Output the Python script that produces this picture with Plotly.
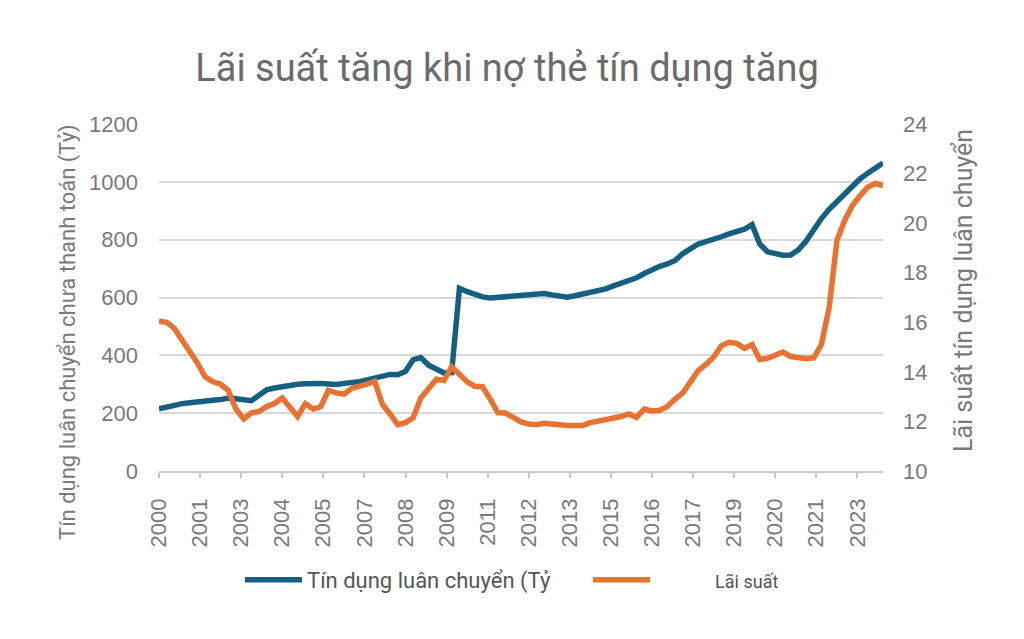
import plotly.graph_objects as go
import pandas as pd

# ---- data (quarterly, 2000 Q1 .. 2023 Q3) ----
start_period = "2000-01-01"
credit_outstanding = [
    215, 222, 228, 233,
    236, 240, 242, 245,
    247, 252, 250, 247,
    243, 262, 281, 287,
    292, 296, 300, 302,
    304, 303, 301, 299,
    303, 305, 309, 315,
    322, 332, 334, 333,
    345, 385, 392, 366,
    352, 339, 340, 632,
    620, 610, 602, 598,
    600, 603, 603, 605,
    607, 610, 614, 609,
    605, 601, 606, 612,
    617, 621, 630, 640,
    648, 658, 668, 683,
    696, 708, 716, 728,
    752, 768, 785, 793,
    800, 810, 820, 828,
    836, 852, 785, 758,
    750, 746, 747, 765,
    795, 835, 873, 905,
    932, 958, 985, 1010,
    1030, 1048, 1065,
]
interest_rate = [
    16.04, 16.0, 15.75, 15.3,
    14.85, 14.35, 13.8, 13.6,
    13.5, 13.25, 12.5, 12.1,
    12.35, 12.4, 12.6, 12.72,
    12.95, 12.6, 12.2, 12.72,
    12.5, 12.6, 13.25, 13.15,
    13.1, 13.33, 13.4, 13.5,
    13.62, 12.7, 12.3, 11.87,
    11.95, 12.15, 12.95, 13.3,
    13.7, 13.65, 14.2, 13.9,
    13.6, 13.42, 13.4, 12.9,
    12.35, 12.34, 12.15, 11.98,
    11.9, 11.87, 11.93, 11.9,
    11.84, 11.84, 11.84, 11.84,
    11.95, 12.0, 12.05, 12.11,
    12.2, 12.3, 12.16, 12.5,
    12.42, 12.45, 12.6, 12.9,
    13.15, 13.6, 14.05, 14.3,
    14.6, 15.05, 15.19, 15.15,
    14.95, 15.1, 14.5, 14.55,
    14.65, 14.8, 14.62, 14.55,
    14.53, 14.56, 15.1, 16.6,
    19.3, 20.1, 20.7, 21.1,
    21.45, 21.6, 21.52,
]
tick_dates = ["2000-01-01", "2001-05-01", "2002-09-01", "2004-01-01", "2005-05-01",
              "2006-09-01", "2008-01-01", "2009-05-01", "2010-09-01", "2012-01-01",
              "2013-05-01", "2014-09-01", "2016-01-01", "2017-05-01", "2018-09-01",
              "2020-01-01", "2021-05-01", "2022-09-01"]
tick_labels = ["2000", "2001", "2003", "2004", "2005", "2007", "2008", "2009", "2011",
               "2012", "2013", "2015", "2016", "2017", "2019", "2020", "2021", "2023"]
series_names = ["Tín dụng luân chuyển (Tỷ" + "\u00a0" * 6,
                "\u00a0" * 11 + "<span style='font-size:18px'>Lãi suất</span>"]
title_text = "Lãi suất tăng khi nợ thẻ tín dụng tăng"
left_title = "Tín dụng luân chuyển chưa thanh toán (Tỷ)"
right_title = "Lãi suất tín dụng luân chuyển"

dates = pd.date_range(start_period, periods=len(credit_outstanding), freq="QS")

BLUE = "#156082"
ORANGE = "#E97132"
GRAY = "#7a7a7a"

fig = go.Figure()
fig.add_trace(go.Scatter(x=dates, y=credit_outstanding, name=series_names[0],
                         mode="lines", line=dict(color=BLUE, width=5.5), yaxis="y"))
fig.add_trace(go.Scatter(x=dates, y=interest_rate, name=series_names[1],
                         mode="lines", line=dict(color=ORANGE, width=5.5), yaxis="y2"))

fig.update_layout(
    width=1024, height=639,
    paper_bgcolor="white", plot_bgcolor="white",
    margin=dict(l=151, r=149, t=116, b=176),
    title=dict(text=title_text, x=499 / 1024, xref="container", xanchor="center",
               y=1 - 60 / 639, yref="container", yanchor="middle",
               font=dict(family="Roboto", size=38, color="#6b6b6b")),
    xaxis=dict(type="date", range=[dates[0], dates[-1]],
               tickvals=tick_dates, ticktext=tick_labels, tickangle=-90,
               showgrid=False, showline=True, linecolor="#c8c8c8", linewidth=1.5,
               ticks="outside", ticklen=5, tickcolor="#c8c8c8", tickwidth=1.5,
               tickfont=dict(family="Liberation Sans", size=22, color=GRAY),
               ticklabelstandoff=12, zeroline=False),
    yaxis=dict(range=[0, 1200], dtick=200, showgrid=True, gridcolor="#d9d9d9",
               gridwidth=1.5, zeroline=False, showline=False,
               tickfont=dict(family="Liberation Sans", size=22, color=GRAY),
               ticklabelstandoff=20),
    yaxis2=dict(range=[10, 24], dtick=2, overlaying="y", side="right",
                showgrid=False, zeroline=False, showline=False,
                tickfont=dict(family="Liberation Sans", size=22, color=GRAY),
                ticklabelstandoff=19),
    legend=dict(orientation="h", xref="container", x=504 / 1024, xanchor="center",
                yref="container", y=1 - 572 / 639, yanchor="middle",
                itemwidth=57, font=dict(family="Roboto", size=22, color="#555555"),
                traceorder="normal"),
    showlegend=True,
    annotations=[
        dict(text=left_title, xref="paper", yref="paper",
             x=(68 - 159) / 724, y=(473 - 334) / 347, textangle=-90,
             showarrow=False, xanchor="center", yanchor="middle",
             font=dict(family="Roboto", size=22, color=GRAY)),
        dict(text=right_title, xref="paper", yref="paper",
             x=(963 - 159) / 724, y=(473 - 293) / 347, textangle=-90,
             showarrow=False, xanchor="center", yanchor="middle",
             font=dict(family="Roboto", size=25, color=GRAY)),
    ],
)

fig.write_html("out.html")
